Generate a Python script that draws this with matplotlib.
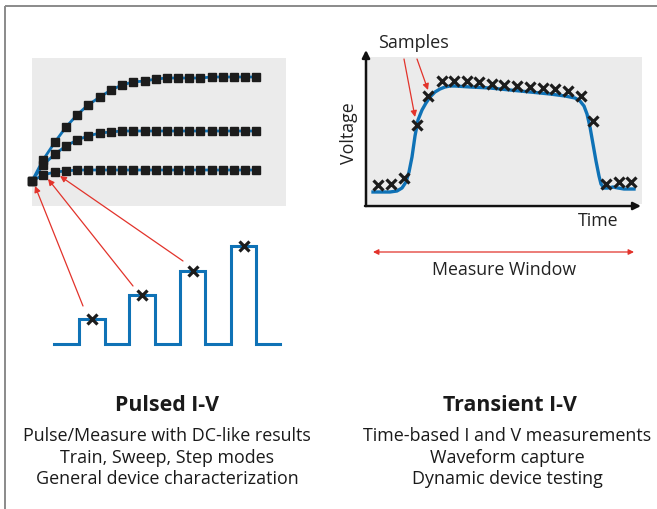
import matplotlib.pyplot as plt
import matplotlib.patches as mpatches

plt.rcParams['font.family'] = ['Open Sans', 'DejaVu Sans']

BLUE = '#0f72b6'
RED = '#e2332b'
GRAY_BG = '#ebebeb'

# ---- Pulsed I-V: three swept curves (pixel coords of the drawing) ----
curve_x = [32, 43, 55, 66, 77, 88, 100, 111, 122, 133, 145, 156, 167, 178,
           189, 200, 212, 223, 234, 245, 256]
curve_top = [182, 161, 143, 128, 116, 106, 98, 91, 86, 83, 82, 80, 79, 79,
             79, 79, 78, 78, 78, 78, 78]
curve_mid = [182, 166, 155, 147, 141, 137, 134, 133, 132, 132, 132, 132, 132,
             132, 132, 132, 132, 132, 132, 132, 132]
curve_low = [182, 176, 173, 172, 171, 171, 171, 171, 171, 171, 171, 171, 171,
             171, 171, 171, 171, 171, 171, 171, 171]

# pulse train: (left, right, top) for each pulse, baseline level
pulse_edges = [(79, 105, 320), (129, 155, 296), (180, 205, 272), (231, 256, 247)]
pulse_base = 345
pulse_start, pulse_end = 54, 280

# arrows: pulse sample -> point on curve
pulse_arrows = [((83, 307), (35, 187)), ((133, 287), (48, 180)), ((183, 262), (60, 177))]

# ---- Transient I-V waveform ----
wave_x = [373, 380, 390, 397, 402, 406, 409, 412, 415, 418, 422, 426, 430, 435,
          440, 445, 450, 455, 470, 490, 510, 530, 550, 565, 575, 580, 584, 587,
          590, 593, 596, 599, 601, 604, 608, 613, 618, 624, 630, 634]
wave_y = [193, 193, 193, 192, 189, 183, 173, 158, 137, 121, 111, 104, 98, 93,
          90, 88, 87, 87, 88, 89, 91, 93, 95, 97, 99, 102, 107, 115, 128, 145,
          162, 177, 185, 189, 189, 188, 189, 190, 190, 190]
sample_x = [378, 391, 404, 417, 428, 442, 454, 467, 479, 492, 504, 517, 530,
            543, 555, 568, 581, 593, 606, 619, 631]
sample_y = [186, 185, 179, 126, 97, 82, 82, 82, 83, 85, 86, 87, 88, 89, 90,
            92, 97, 122, 185, 183, 183]

left_lines = ["Pulse/Measure with DC-like results", "Train, Sweep, Step modes",
              "General device characterization"]
right_lines = ["Time-based I and V measurements", "Waveform capture",
               "Dynamic device testing"]

fig = plt.figure(figsize=(6.57, 5.10), dpi=100)
ax = fig.add_axes([0, 0, 1, 1])
ax.set_xlim(0, 657)
ax.set_ylim(510, 0)
ax.axis('off')

# frame
ax.plot([5, 657], [7, 7], color='#8a8a8a', lw=1.4, solid_capstyle='butt')
ax.plot([5, 5], [7, 510], color='#8a8a8a', lw=1.4, solid_capstyle='butt')

# left gray panel
ax.add_patch(mpatches.Rectangle((32, 59), 254, 148, color=GRAY_BG, lw=0, zorder=0))
for ys in (curve_top, curve_mid, curve_low):
    ax.plot(curve_x, ys, color=BLUE, lw=2, zorder=2)
    ax.plot(curve_x, ys, ls='none', marker='s', ms=5.4, color='#1c1c1c', zorder=3)

# pulse train
px, py = [pulse_start], [pulse_base]
for l, r, t in pulse_edges:
    px += [l, l, r, r]
    py += [pulse_base, t, t, pulse_base]
px.append(pulse_end)
py.append(pulse_base)
ax.plot(px, py, color=BLUE, lw=2.2, solid_joinstyle='miter')
ax.plot([(l + r) / 2 for l, r, t in pulse_edges], [t for l, r, t in pulse_edges],
        ls='none', marker='x', ms=6.5, mew=2.3, color='#1c1c1c', zorder=4)

for (sx, sy), (ex, ey) in pulse_arrows:
    ax.annotate('', xy=(ex, ey), xytext=(sx, sy),
                arrowprops=dict(arrowstyle='-|>', color=RED, lw=0.9,
                                mutation_scale=9, shrinkA=0, shrinkB=0))

# right gray panel and axes
ax.add_patch(mpatches.Rectangle((366, 58), 276, 147, color=GRAY_BG, lw=0, zorder=0))
ax.annotate('', xy=(366, 51), xytext=(366, 207),
            arrowprops=dict(arrowstyle='-|>', color='#111111', lw=1.8,
                            mutation_scale=11, shrinkA=0, shrinkB=0))
ax.annotate('', xy=(641, 207), xytext=(365, 207),
            arrowprops=dict(arrowstyle='-|>', color='#111111', lw=1.8,
                            mutation_scale=11, shrinkA=0, shrinkB=0))

ax.plot(wave_x, wave_y, color=BLUE, lw=2.4, zorder=2)
ax.plot(sample_x, sample_y, ls='none', marker='x', ms=6.5, mew=2.3,
        color='#1c1c1c', zorder=3)

ax.text(413, 43, "Samples", fontsize=13, ha='center', va='center', color='#222222')
ax.text(349, 133, "Voltage", fontsize=12.8, ha='center', va='center',
        rotation=90, color='#222222')
ax.text(598, 221, "Time", fontsize=12.8, ha='center', va='center', color='#222222')

for (sx, sy), (ex, ey) in [((404, 60), (415, 118)), ((417, 60), (428, 91))]:
    ax.annotate('', xy=(ex, ey), xytext=(sx, sy),
                arrowprops=dict(arrowstyle='-|>', color=RED, lw=0.9,
                                mutation_scale=9, shrinkA=0, shrinkB=0))

ax.annotate('', xy=(373, 253), xytext=(634, 253),
            arrowprops=dict(arrowstyle='<|-|>', color=RED, lw=0.9,
                            mutation_scale=8, shrinkA=0, shrinkB=0))
ax.text(504, 270, "Measure Window", fontsize=12.8, ha='center', va='center',
        color='#222222')

# captions
ax.text(167, 406, "Pulsed I-V", fontsize=15.4, fontweight='bold',
        ha='center', va='center', color='#1a1a1a')
ax.text(510, 406, "Transient I-V", fontsize=15.4, fontweight='bold',
        ha='center', va='center', color='#1a1a1a')
for i, (l, r) in enumerate(zip(left_lines, right_lines)):
    y = 436.5 + i * 21.5
    ax.text(167, y, l, fontsize=12.9, ha='center', va='center', color='#1a1a1a')
    ax.text(507, y, r, fontsize=12.9, ha='center', va='center', color='#1a1a1a')

fig.savefig('out.png', dpi=100)
